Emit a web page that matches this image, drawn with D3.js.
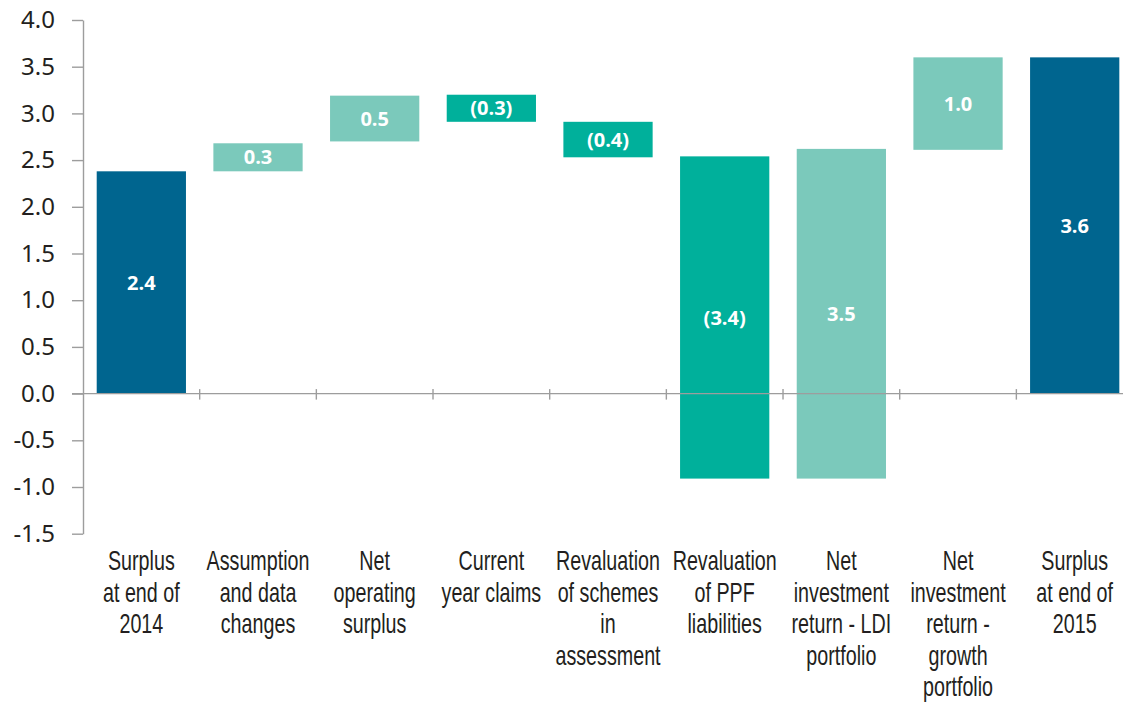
<!DOCTYPE html>
<html>
<head>
<meta charset="utf-8">
<script src="https://cdn.jsdelivr.net/npm/d3@7"></script>
<style>
  body { margin: 0; background: #fff; }
  .cat { font-family: "Liberation Sans", Arial, sans-serif; font-size: 27px; fill: #231f20; }
  .y.axis text { font-family: "Noto Sans", "Open Sans", sans-serif; font-size: 24px; fill: #231f20; }
  .val { font-family: "Open Sans", "Noto Sans", sans-serif; font-weight: bold; font-size: 20px; fill: #fff; }
</style>
</head>
<body>
<div id="chart-area"></div>
<script>
// categories, one label line per entry
var categories = [
    ["Surplus", "at end of", "2014"],
    ["Assumption", "and data", "changes"],
    ["Net", "operating", "surplus"],
    ["Current", "year claims"],
    ["Revaluation", "of schemes", "in", "assessment"],
    ["Revaluation", "of PPF", "liabilities"],
    ["Net", "investment", "return - LDI", "portfolio"],
    ["Net", "investment", "return -", "growth", "portfolio"],
    ["Surplus", "at end of", "2015"]
];
// bar start / end values (£bn)
var barStart = [0, 2.38, 2.70, 3.20, 2.91, 2.54, -0.91, 2.61, 0];
var barEnd   = [2.38, 2.68, 3.19, 2.91, 2.53, -0.91, 2.62, 3.60, 3.60];
var valueLabels = ["2.4", "0.3", "0.5", "(0.3)", "(0.4)", "(3.4)", "3.5", "1.0", "3.6"];
var barType = ["total", "up", "up", "down", "down", "down", "up", "up", "total"];
var yTicks = [-1.5, -1.0, -0.5, 0.0, 0.5, 1.0, 1.5, 2.0, 2.5, 3.0, 3.5, 4.0];

var colors = { total: "#00658f", up: "#7bc9bb", down: "#00b09b" };

var width = 1123, height = 703;
var margin = {left: 83, top: 20, bottom: 533.7};

var svg = d3.select("#chart-area")
    .append("svg")
    .attr("width", width)
    .attr("height", height);

var keys = categories.map(function(d, i){ return "c" + i; });

var x = d3.scaleBand()
    .domain(keys)
    .range([margin.left, margin.left + 9 * 116.67])
    .paddingInner(0.235)
    .paddingOuter(0.1175);

var y = d3.scaleLinear()
    .domain([-1.5, 4.0])
    .range([margin.bottom, margin.top]);

// y axis
var yAxisCall = d3.axisLeft(y)
    .tickValues(yTicks)
    .tickSize(11)
    .tickSizeOuter(0)
    .tickPadding(17)
    .tickFormat(function(d){ return d.toFixed(1); });

var yAxis = svg.append("g")
    .attr("class", "y axis")
    .attr("transform", "translate(" + margin.left + ",0)")
    .call(yAxisCall);
yAxis.selectAll("path, line")
    .attr("stroke", "#9d9d9d")
    .attr("stroke-width", 1.4);

// bars
svg.selectAll("rect.bar")
    .data(keys)
    .enter()
    .append("rect")
    .attr("class", "bar")
    .attr("x", function(d){ return x(d); })
    .attr("width", x.bandwidth())
    .attr("y", function(d, i){ return y(Math.max(barStart[i], barEnd[i])); })
    .attr("height", function(d, i){ return Math.abs(y(barStart[i]) - y(barEnd[i])); })
    .attr("fill", function(d, i){ return colors[barType[i]]; });

// zero line with category separators
svg.append("line")
    .attr("x1", margin.left - 11)
    .attr("x2", width)
    .attr("y1", y(0))
    .attr("y2", y(0))
    .attr("stroke", "#9d9d9d")
    .attr("stroke-width", 1.4);

var step = x.step();
svg.selectAll("line.sep")
    .data(keys.slice(1))
    .enter()
    .append("line")
    .attr("class", "sep")
    .attr("x1", function(d){ return x(d) - step * x.paddingInner() / 2; })
    .attr("x2", function(d){ return x(d) - step * x.paddingInner() / 2; })
    .attr("y1", y(0) - 4.5)
    .attr("y2", y(0) + 6)
    .attr("stroke", "#9d9d9d")
    .attr("stroke-width", 1.4);

// value labels
svg.selectAll("text.val")
    .data(keys)
    .enter()
    .append("text")
    .attr("class", "val")
    .attr("x", function(d){ return x(d) + x.bandwidth() / 2; })
    .attr("y", function(d, i){ return (y(barStart[i]) + y(barEnd[i])) / 2; })
    .attr("text-anchor", "middle")
    .attr("dy", "0.36em")
    .text(function(d, i){ return valueLabels[i]; });

// category labels (squeezed horizontally to mimic a condensed face)
var cats = svg.selectAll("text.cat")
    .data(keys)
    .enter()
    .append("text")
    .attr("class", "cat")
    .attr("text-anchor", "middle")
    .attr("transform", function(d){ return "translate(" + (x(d) + x.bandwidth() / 2) + ",570) scale(0.73,1)"; });

cats.selectAll("tspan")
    .data(function(d, i){ return categories[i]; })
    .enter()
    .append("tspan")
    .attr("x", 0)
    .attr("y", function(d, j){ return j * 31.6; })
    .text(function(d){ return d; });
</script>
</body>
</html>
